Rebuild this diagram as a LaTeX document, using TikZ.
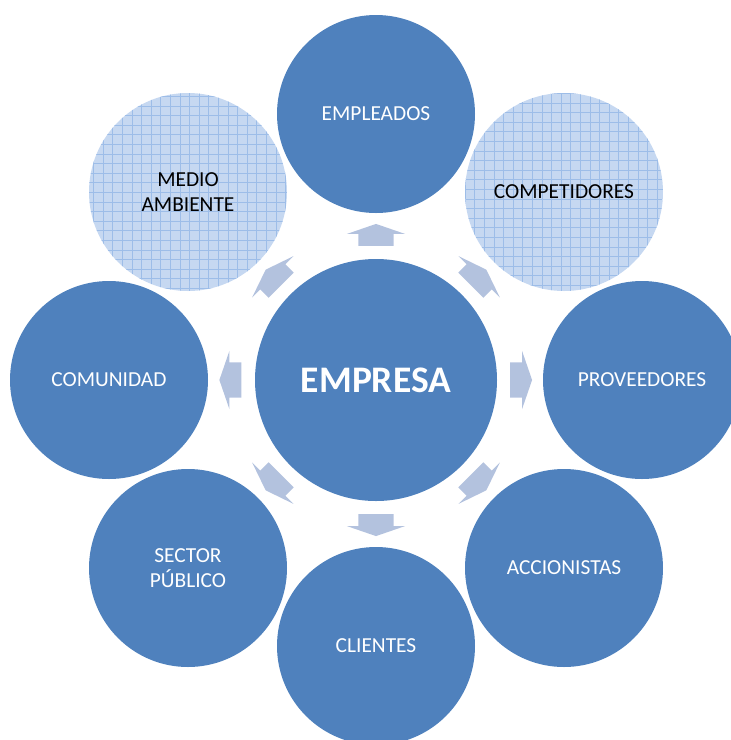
\documentclass[tikz,border=0pt]{standalone}
\usepackage{fontspec}
\setmainfont{Carlito}
\usetikzlibrary{shapes.arrows}

\definecolor{azul}{HTML}{4F81BD}
\definecolor{cuadro}{HTML}{C6D8F1}
\definecolor{rejilla}{HTML}{9DBDE8}
\definecolor{flecha}{HTML}{B3C2DE}

\begin{document}
\begin{tikzpicture}[x = 1pt, y = -1pt]
\tikzstyle{CircleStyle}=[shape = circle,
                         minimum size = 198pt,
                         inner sep = 0pt, outer sep = 0pt,
                         fill = azul, text = white, align = center,
                         font = \fontsize{21.4}{25}\selectfont]
\tikzstyle{GridStyle}=[CircleStyle, fill = cuadro, text = black,
                       path picture = {\draw[rejilla, line width = 0.6pt]
                         (path picture bounding box.south west) grid[step = 9.6pt]
                         (path picture bounding box.north east);}]
\tikzstyle{ArrowStyle}=[single arrow, fill = flecha,
                        minimum height = 22pt, minimum width = 0pt,
                        inner xsep = 0pt, inner ysep = 17.5pt,
                        single arrow head extend = 11.5pt,
                        single arrow tip angle = 142,
                        sloped, allow upside down, pos = 0.534]
\useasboundingbox (0,0) rectangle (731,740);
\clip (0,0) rectangle (731,740);
\node[CircleStyle, minimum size = 242pt, font = \fontsize{37.5}{42}\selectfont\bfseries] (c0) at (376,380) {EMPRESA};
\node[CircleStyle] (c1) at (376,114) {EMPLEADOS};
\node[GridStyle] (c2) at (564,192) {COMPETIDORES};
\node[CircleStyle] (c3) at (642,380) {PROVEEDORES};
\node[CircleStyle] (c4) at (564,568) {ACCIONISTAS};
\node[CircleStyle] (c5) at (376,646) {CLIENTES};
\node[CircleStyle] (c6) at (188,568) {SECTOR\\P\'UBLICO};
\node[CircleStyle] (c7) at (109,380) {COMUNIDAD};
\node[GridStyle] (c8) at (188,192) {MEDIO\\AMBIENTE};
\path (c0.center) -- node[ArrowStyle] {} (c1.center);
\path (c0.center) -- node[ArrowStyle] {} (c2.center);
\path (c0.center) -- node[ArrowStyle] {} (c3.center);
\path (c0.center) -- node[ArrowStyle] {} (c4.center);
\path (c0.center) -- node[ArrowStyle] {} (c5.center);
\path (c0.center) -- node[ArrowStyle] {} (c6.center);
\path (c0.center) -- node[ArrowStyle] {} (c7.center);
\path (c0.center) -- node[ArrowStyle] {} (c8.center);
\end{tikzpicture}
\end{document}
